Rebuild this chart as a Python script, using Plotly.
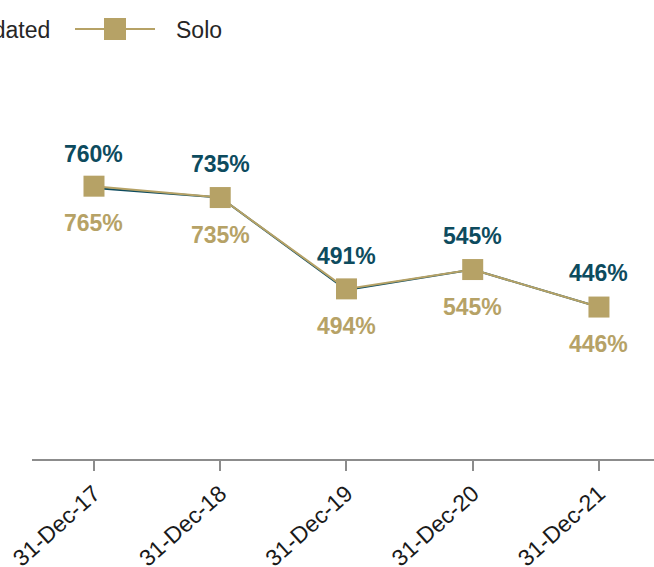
import plotly.graph_objects as go

categories = ["31-Dec-17", "31-Dec-18", "31-Dec-19", "31-Dec-20", "31-Dec-21"]
consolidated = [760, 735, 491, 545, 446]
solo = [765, 735, 494, 545, 446]
series_names = ["Consolidated", "Solo"]

TEAL = "#0d4b5e"
TAN = "#b6a266"
FONT = "Liberation Sans, Arial, sans-serif"

W, H = 654, 567
ML, MR, MT, MB = 32, 0, 60, 108
PW = W - ML - MR
PH = H - MT - MB


def px_x(p):
    return (p - ML) / PW


def px_y(p):
    return (H - MB - p) / PH


fig = go.Figure()
fig.add_trace(go.Scatter(
    x=categories, y=consolidated, name=series_names[0], mode="lines",
    line=dict(color=TEAL, width=2), showlegend=False,
))
fig.add_trace(go.Scatter(
    x=categories, y=solo, name=series_names[1], mode="lines+markers",
    line=dict(color=TAN, width=2),
    marker=dict(symbol="square", size=21, color=TAN, line=dict(width=0)),
    showlegend=False,
))

annotations = []
for c, v in zip(categories, consolidated):
    annotations.append(dict(
        x=c, y=v, xref="x", yref="y", text=f"<b>{v}%</b>", showarrow=False,
        yshift=34, font=dict(size=23, color=TEAL, family=FONT),
    ))
for c, v in zip(categories, solo):
    annotations.append(dict(
        x=c, y=v, xref="x", yref="y", text=f"<b>{v}%</b>", showarrow=False,
        yshift=-37, font=dict(size=23, color=TAN, family=FONT),
    ))

# custom legend (partially cut off at the left like the reference)
annotations.append(dict(
    x=px_x(52), y=px_y(30), xref="paper", yref="paper", text=series_names[0],
    showarrow=False, xanchor="right", yanchor="middle",
    font=dict(size=23, color="#262626", family=FONT),
))
annotations.append(dict(
    x=px_x(174), y=px_y(30), xref="paper", yref="paper", text=series_names[1],
    showarrow=False, xanchor="left", yanchor="middle",
    font=dict(size=23, color="#262626", family=FONT),
))

shapes = [
    dict(type="line", xref="paper", yref="paper",
         x0=px_x(-140), x1=px_x(-60), y0=px_y(29), y1=px_y(29),
         line=dict(color=TEAL, width=2)),
    dict(type="line", xref="paper", yref="paper",
         x0=px_x(75), x1=px_x(155), y0=px_y(29), y1=px_y(29),
         line=dict(color=TAN, width=2)),
    dict(type="rect", xref="paper", yref="paper",
         x0=px_x(104), x1=px_x(126), y0=px_y(40), y1=px_y(18),
         fillcolor=TAN, line=dict(width=0)),
]

fig.update_layout(
    width=W, height=H,
    margin=dict(l=ML, r=MR, t=MT, b=MB, pad=0, autoexpand=False),
    paper_bgcolor="white", plot_bgcolor="white",
    font=dict(family=FONT, size=22, color="#1a1a1a"),
    showlegend=False,
    annotations=annotations,
    shapes=shapes,
    xaxis=dict(
        type="category", range=[-0.491, 4.436], automargin=False,
        showline=True, linecolor="#8c8c8c", linewidth=2,
        ticks="outside", ticklen=10, tickwidth=2, tickcolor="#8c8c8c",
        tickangle=-42, showgrid=False, zeroline=False,
        tickfont=dict(size=23, color="#1a1a1a", family=FONT),
    ),
    yaxis=dict(
        range=[45, 1098], visible=False, showgrid=False, zeroline=False,
        automargin=False,
    ),
)

fig.write_html(
    "out.html",
    config={"displayModeBar": False},
    post_script="document.body.style.margin='0px';document.body.style.overflow='hidden';",
)
